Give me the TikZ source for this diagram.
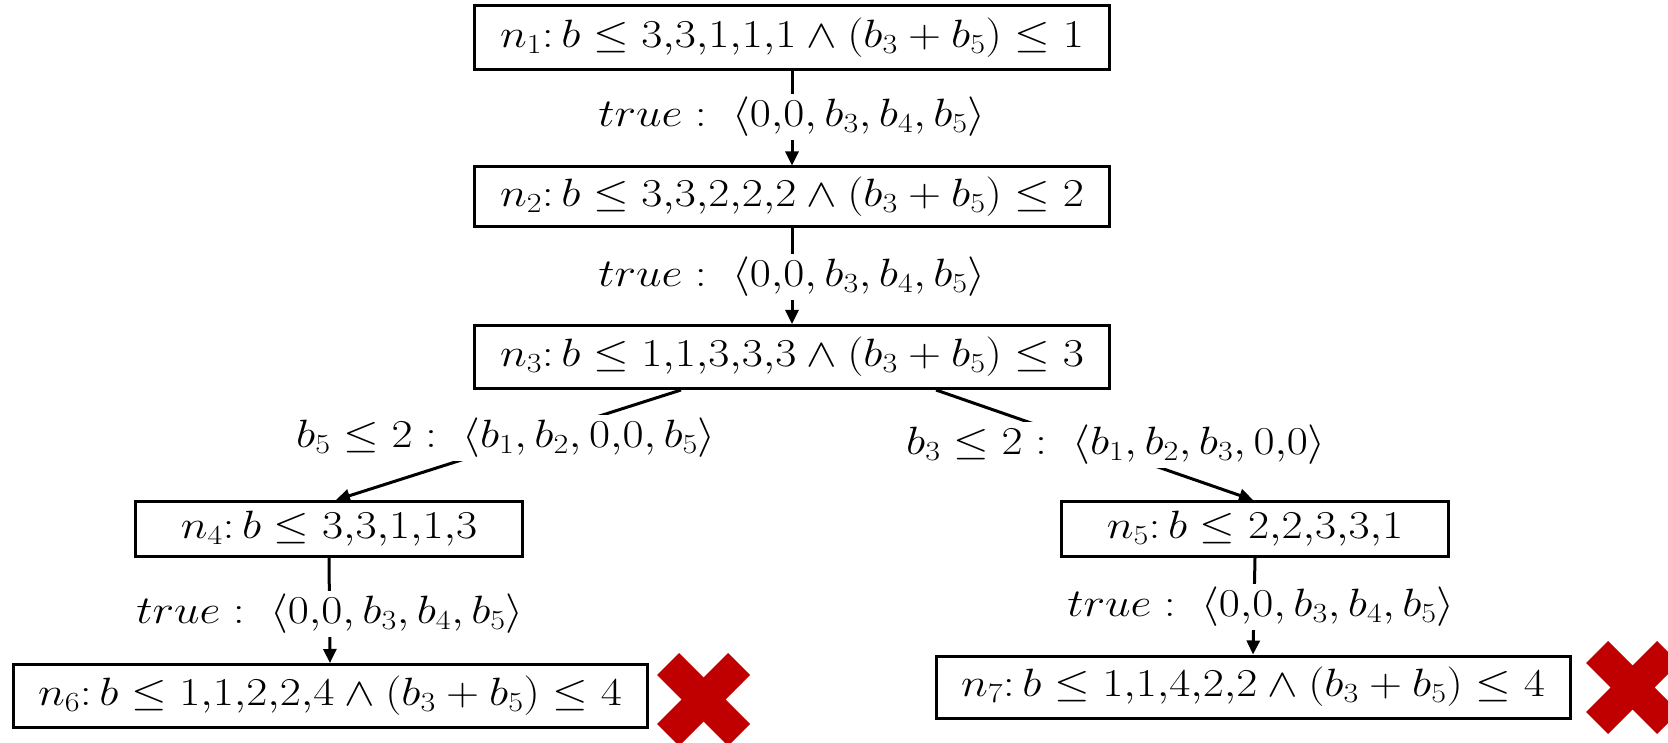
\RequirePackage{fix-cm}
\documentclass[tikz,border=0pt]{standalone}
\usepackage{graphicx}
\usetikzlibrary{arrows.meta}
\definecolor{xred}{HTML}{C00000}
\newcommand{\stx}[1]{\scalebox{1.16}[1]{$#1$}}
\begin{document}
\begin{tikzpicture}[x=1pt,y=-1pt,
  font=\fontsize{39.5}{46}\selectfont,
  box/.style={draw, line width=3pt, inner sep=0pt},
  lab/.style={fill=white, inner xsep=2pt, inner ysep=3pt},
  conn/.style={line width=3pt},
  arr/.style={conn, -{Triangle[length=14pt,width=13pt]}},
  redx/.pic={\fill[xred] (-24.5,-46.5) -- (0,-22) -- (24.5,-46.5) -- (46.5,-24.5) -- (22,0) -- (46.5,24.5) -- (24.5,46.5) -- (0,22) -- (-24.5,46.5) -- (-46.5,24.5) -- (-22,0) -- (-46.5,-24.5) -- cycle;}]
\useasboundingbox (0,0) rectangle (1668,743);
\node[box, minimum width=635pt, minimum height=64pt] (n1) at (792,38) {\stx{n_1\colon b \le 3{,}3{,}1{,}1{,}1 \land (b_3+b_5) \le 1}};
\node[box, minimum width=635pt, minimum height=60pt] (n2) at (792,197) {\stx{n_2\colon b \le 3{,}3{,}2{,}2{,}2 \land (b_3+b_5) \le 2}};
\node[box, minimum width=635pt, minimum height=63pt] (n3) at (792,357) {\stx{n_3\colon b \le 1{,}1{,}3{,}3{,}3 \land (b_3+b_5) \le 3}};
\node[box, minimum width=387pt, minimum height=55pt] (n4) at (329,529) {\stx{n_4\colon b \le 3{,}3{,}1{,}1{,}3}};
\node[box, minimum width=387pt, minimum height=55pt] (n5) at (1255,529) {\stx{n_5\colon b \le 2{,}2{,}3{,}3{,}1}};
\node[box, minimum width=634pt, minimum height=63pt] (n6) at (330,696) {\stx{n_6\colon b \le 1{,}1{,}2{,}2{,}4 \land (b_3+b_5) \le 4}};
\node[box, minimum width=634pt, minimum height=62pt] (n7) at (1253,687) {\stx{n_7\colon b \le 1{,}1{,}4{,}2{,}2 \land (b_3+b_5) \le 4}};
\draw[arr] (n1.south) -- (n2.north);
\draw[arr] (n2.south) -- (n3.north);
\draw[arr] ([xshift=-111pt]n3.south) -- ([xshift=7pt]n4.north);
\draw[arr] ([xshift=144pt]n3.south) -- ([xshift=-2pt]n5.north);
\draw[arr] (n4.south) -- (n6.north);
\draw[arr] (n5.south) -- (n7.north);
\node[lab] (l12) at (792,117) {\stx{true : \; \langle 0{,}0, b_3, b_4, b_5\rangle}};
\node[lab] (l23) at (792,277) {\stx{true : \; \langle 0{,}0, b_3, b_4, b_5\rangle}};
\node[lab] (l34) at (506,438) {\stx{b_5 \le 2 : \; \langle b_1, b_2, 0{,}0, b_5\rangle}};
\node[lab] (l35) at (1116,445) {\stx{b_3 \le 2 : \; \langle b_1, b_2, b_3, 0{,}0\rangle}};
\node[lab] (l46) at (330,614) {\stx{true : \; \langle 0{,}0, b_3, b_4, b_5\rangle}};
\node[lab] (l57) at (1261,607) {\stx{true : \; \langle 0{,}0, b_3, b_4, b_5\rangle}};
\pic (x1) at (703.5,699.5) {redx};
\pic (x2) at (1632.5,687.5) {redx};
\end{tikzpicture}
\end{document}
